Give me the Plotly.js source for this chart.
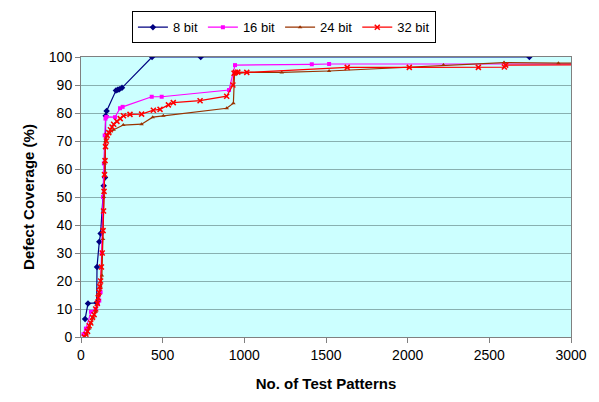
<!DOCTYPE html>
<html><head><meta charset="utf-8">
<script src="https://cdn.plot.ly/plotly-3.0.1.min.js"></script>
<style>html,body{margin:0;padding:0;background:#fff;}#chart{width:599px;height:402px;}</style>
</head><body><div id="chart"></div>
<script>
const seriesNames = ["8 bit", "16 bit", "24 bit", "32 bit"];
const x8 = [25, 43, 96, 98, 112, 120, 139, 147, 151, 157, 214, 225, 235, 251, 435, 733, 2745];
const y8 = [6.4, 12, 12.2, 25, 34, 37, 54, 57, 79, 80.7, 88, 88.3, 88.5, 89, 100, 100, 100];
const x16 = [15, 30, 61, 90, 104, 112, 120, 128, 135, 140, 145, 150, 155, 208, 239, 255, 433, 494, 906, 943, 1413, 1519, 3050];
const y16 = [1, 3, 9, 10, 12, 13, 16, 30, 50, 62, 72, 78, 78.6, 78.5, 81.7, 82.2, 85.8, 85.8, 88.2, 97.1, 97.4, 97.5, 97.5];
const x24 = [20, 35, 50, 60, 75, 90, 100, 110, 120, 128, 135, 140, 145, 150, 160, 175, 200, 259, 371, 439, 504, 892, 933, 940, 1015, 1229, 1519, 2219, 2590, 2923, 3050];
const y24 = [0, 1, 3, 5, 7, 9, 12, 15, 18, 22, 35, 50, 62, 70, 72, 73, 74, 75.7, 76, 78.5, 79, 81.7, 83.5, 94, 94.5, 94.5, 95, 97.1, 98, 97.8, 97.8];
const x32 = [20, 30, 40, 50, 60, 70, 80, 90, 100, 105, 110, 115, 120, 125, 130, 135, 138, 141, 144, 147, 150, 155, 160, 170, 180, 190, 200, 220, 240, 260, 300, 371, 443, 484, 535, 565, 729, 892, 930, 937, 945, 960, 1015, 1630, 2010, 2433, 2592, 2600, 3050];
const y32 = [0, 1, 2, 4, 5, 7, 8, 10, 12, 14, 16, 18, 20, 25, 30, 38, 45, 52, 58, 63, 68, 70, 72, 73, 74, 75, 76, 77, 78, 79, 79.5, 79.6, 81, 81.3, 82.9, 83.7, 84.4, 86, 90, 94.2, 94.5, 94.6, 94.5, 96.3, 96.3, 96.3, 96.4, 97.1, 97.2];
const xTicks = [0, 500, 1000, 1500, 2000, 2500, 3000];
const yTicks = [0, 10, 20, 30, 40, 50, 60, 70, 80, 90, 100];

const font = "Liberation Sans, Arial, sans-serif";
const traces = [
  {x: x8, y: y8, name: seriesNames[0], mode: "lines+markers", line: {color: "#000080", width: 1.2}, marker: {symbol: "diamond", size: 5, color: "#000080"}},
  {x: x16, y: y16, name: seriesNames[1], mode: "lines+markers", line: {color: "#ff00ff", width: 1.2}, marker: {symbol: "square", size: 4, color: "#ff00ff"}},
  {x: x24, y: y24, name: seriesNames[2], mode: "lines+markers", line: {color: "#993300", width: 1.2}, marker: {symbol: "triangle-up", size: 4, color: "#993300"}},
  {x: x32, y: y32, name: seriesNames[3], mode: "lines+markers", line: {color: "#ff0000", width: 1.2}, marker: {symbol: "x-thin", size: 5, color: "#ff0000", line: {color: "#ff0000", width: 1.5}}}
];
const layout = {
  width: 599, height: 402,
  margin: {l: 81, r: 28, t: 57, b: 65},
  paper_bgcolor: "#ffffff",
  plot_bgcolor: "#ccffff",
  font: {family: font, size: 14, color: "#000"},
  showlegend: true,
  legend: {orientation: "h", x: 0.474, xanchor: "center", xref: "container", y: 0.972, yanchor: "top", yref: "container",
           bordercolor: "#000", borderwidth: 1, bgcolor: "#fff", font: {family: font, size: 13},
           itemwidth: 30, tracegroupgap: 0},
  xaxis: {range: [0, 3000], tickvals: xTicks, ticks: "outside", ticklen: 5, tickcolor: "#808080",
          showgrid: false, zeroline: false, showline: true, linecolor: "#808080", mirror: true,
          title: {text: "<b>No. of Test Patterns</b>", font: {family: font, size: 15}, standoff: 16},
          tickfont: {family: font, size: 14}},
  yaxis: {range: [0, 100], tickvals: yTicks, ticks: "outside", ticklen: 5, tickcolor: "#808080",
          showgrid: true, gridcolor: "#88b0b0", gridwidth: 1, zeroline: false,
          showline: true, linecolor: "#808080", mirror: true,
          title: {text: "<b>Defect Coverage (%)</b>", font: {family: font, size: 15}, standoff: 10},
          tickfont: {family: font, size: 14}}
};
Plotly.newPlot("chart", traces, layout, {displayModeBar: false, staticPlot: true});
</script></body></html>
